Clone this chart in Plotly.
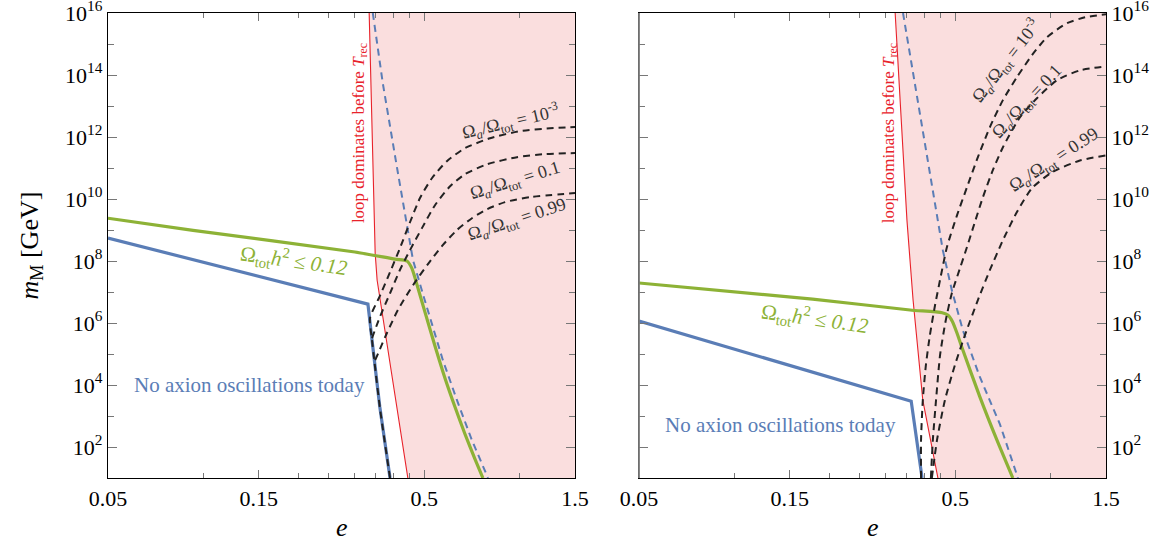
import math
import plotly.graph_objects as go

# ---------------- data (e values, log10 of m_M in GeV) ----------------
# Left panel
L_green_e = [0.05, 0.0929, 0.302, 0.404, 0.441, 0.457, 0.467, 0.503, 0.541, 0.582, 0.626, 0.673, 0.724, 0.767]
L_green_m = [9.38, 8.99, 8.29, 8.06, 8.0, 7.77, 7.48, 6.35, 5.26, 4.22, 3.29, 2.42, 1.61, 1.0]

L_blue_e = [0.05, 0.332, 0.342, 0.362, 0.390]
L_blue_m = [8.74, 6.61, 5.45, 3.29, 1.0]

L_bdash_e = [0.344, 0.370, 0.410, 0.444, 0.461, 0.499, 0.573, 0.635, 0.708, 0.796]
L_bdash_m = [16.0, 13.73, 11.03, 8.9, 8.03, 6.83, 4.80, 3.51, 2.22, 1.0]

L_red_e = [0.335, 0.350, 0.355, 0.444]
L_red_m = [16.0, 8.25, 7.38, 1.0]

L_a1_e = [0.390, 0.362, 0.342, 0.337, 0.362, 0.390, 0.419, 0.451, 0.485, 0.529, 0.590, 0.673, 0.808, 1.005, 1.25, 1.5]
L_a1_m = [1.0, 3.29, 5.45, 6.16, 6.87, 7.64, 8.41, 9.25, 10.03, 10.67, 11.22, 11.64, 11.96, 12.19, 12.28, 12.32]
L_a2_e = [0.342, 0.362, 0.390, 0.419, 0.451, 0.492, 0.541, 0.604, 0.673, 0.790, 0.983, 1.205, 1.5]
L_a2_m = [5.51, 6.19, 6.96, 7.71, 8.35, 9.06, 9.80, 10.41, 10.80, 11.12, 11.35, 11.45, 11.48]
L_a3_e = [0.350, 0.381, 0.413, 0.461, 0.514, 0.569, 0.635, 0.708, 0.790, 0.901, 1.081, 1.5]
L_a3_m = [4.80, 5.67, 6.42, 7.22, 7.90, 8.48, 9.0, 9.38, 9.67, 9.90, 10.06, 10.19]

# Right panel
R_green_e = [0.05, 0.177, 0.36, 0.455, 0.475, 0.490, 0.507, 0.525, 0.599, 0.678, 0.761]
R_green_m = [7.29, 6.77, 6.42, 6.33, 6.25, 6.05, 5.67, 5.22, 3.61, 2.22, 1.0]

R_blue_e = [0.05, 0.363, 0.393]
R_blue_m = [6.06, 3.48, 1.0]

R_bdash_e = [0.342, 0.457, 0.488, 0.529, 0.599, 0.693, 0.790]
R_bdash_m = [16.0, 8.35, 7.06, 5.76, 4.25, 2.73, 1.0]

R_red_e = [0.323, 0.352, 0.368, 0.395, 0.441]
R_red_m = [16.0, 9.31, 6.74, 3.51, 1.0]

R_a1_e = [0.390, 0.390, 0.395, 0.404, 0.416, 0.432, 0.451, 0.471, 0.507, 0.545, 0.590, 0.644, 0.708, 0.784, 0.875, 0.976, 1.129, 1.287, 1.5]
R_a1_m = [1.0, 2.22, 3.51, 4.64, 5.61, 6.58, 7.54, 8.45, 9.48, 10.38, 11.35, 12.32, 13.19, 13.93, 14.64, 15.22, 15.67, 15.86, 15.96]
R_a2_e = [0.419, 0.425, 0.435, 0.448, 0.467, 0.488, 0.518, 0.545, 0.577, 0.612, 0.658, 0.708, 0.802, 0.907, 1.049, 1.240, 1.5]
R_a2_m = [1.0, 2.22, 3.51, 4.97, 6.09, 6.96, 7.77, 8.45, 9.25, 10.06, 10.93, 11.67, 12.64, 13.25, 13.83, 14.15, 14.28]
R_a3_e = [0.422, 0.438, 0.464, 0.499, 0.537, 0.590, 0.644, 0.708, 0.784, 0.875, 1.019, 1.240, 1.5]
R_a3_m = [1.0, 2.22, 3.51, 4.64, 5.61, 6.74, 7.71, 8.67, 9.58, 10.35, 10.88, 11.24, 11.41]

# axis ticks
x_major = [0.05, 0.15, 0.5, 1.5]
x_major_text = ["0.05", "0.15", "0.5", "1.5"]
x_minor = [0.1, 0.2, 0.25, 0.3, 0.35, 0.4, 0.45, 1.0]
y_major_exp = [2, 4, 6, 8, 10, 12, 14, 16]
y_minor_exp = [3, 5, 7, 9, 11, 13, 15]

E_MIN, E_MAX = 0.05, 1.5
LOGM_MIN, LOGM_MAX = 1, 16

# ---------------- styling ----------------
GREEN = "#8db236"
BLUE = "#5a7db6"
RED = "#e8222a"
PINK = "#fadede"
DASHK = "#222222"
FONT = "Liberation Serif"

fig = go.Figure()


def add_line(e, lm, xa, ya, color, width, dash=None, shape="linear"):
    fig.add_trace(go.Scatter(
        x=e, y=[10 ** v for v in lm], xaxis=xa, yaxis=ya, mode="lines",
        line=dict(color=color, width=width, dash=dash, shape=shape, smoothing=0.6),
        hoverinfo="skip", showlegend=False))


def add_fill(e, lm, xa, ya):
    xs = list(e) + [E_MAX, E_MAX]
    ys = [10 ** v for v in lm] + [10 ** LOGM_MIN, 10 ** LOGM_MAX]
    fig.add_trace(go.Scatter(
        x=xs, y=ys, xaxis=xa, yaxis=ya, mode="lines", fill="toself",
        fillcolor=PINK, line=dict(width=0), hoverinfo="skip", showlegend=False))


panels = [
    ("x", "y", L_red_e, L_red_m, L_bdash_e, L_bdash_m, L_green_e, L_green_m, L_blue_e, L_blue_m,
     [(L_a1_e, L_a1_m), (L_a2_e, L_a2_m), (L_a3_e, L_a3_m)]),
    ("x2", "y2", R_red_e, R_red_m, R_bdash_e, R_bdash_m, R_green_e, R_green_m, R_blue_e, R_blue_m,
     [(R_a1_e, R_a1_m), (R_a2_e, R_a2_m), (R_a3_e, R_a3_m)]),
]

for xa, ya, re_, rm, bde, bdm, ge, gm, be, bm, curves in panels:
    add_fill(re_, rm, xa, ya)
    add_line(re_, rm, xa, ya, RED, 1.1)
    add_line(bde, bdm, xa, ya, BLUE, 2, dash="7px,5px")
    add_line(ge, gm, xa, ya, GREEN, 3.2, shape="spline")
    add_line(be, bm, xa, ya, BLUE, 3.2)
    for ce, cm in curves:
        add_line(ce, cm, xa, ya, DASHK, 2, dash="7px,5px", shape="spline")


def xaxis_cfg(domain, anchor):
    return dict(
        type="log", range=[math.log10(E_MIN), math.log10(E_MAX)], domain=domain, anchor=anchor,
        automargin=False,
        tickmode="array", tickvals=x_major, ticktext=x_major_text,
        ticks="inside", ticklen=8, tickwidth=1.2, tickcolor="#777",
        showline=True, linecolor="black", linewidth=1.3, mirror="ticks",
        showgrid=False, zeroline=False,
        minor=dict(tickmode="array", tickvals=x_minor, ticks="inside", ticklen=5,
                   tickwidth=1.1, tickcolor="#777", showgrid=False),
        tickfont=dict(family=FONT, size=22, color="black"),
        ticklabeloverflow="allow",
    )


def yaxis_cfg(anchor, side):
    return dict(
        type="log", range=[LOGM_MIN, LOGM_MAX], domain=[0, 1], anchor=anchor, side=side,
        automargin=False,
        tickmode="array", tickvals=[10 ** k for k in y_major_exp],
        ticktext=["10<sup>%d</sup>" % k for k in y_major_exp],
        ticks="inside", ticklen=9, tickwidth=1.2, tickcolor="#777",
        showline=True, linecolor="black", linewidth=1.3, mirror="ticks",
        showgrid=False, zeroline=False,
        minor=dict(tickmode="array", tickvals=[10 ** k for k in y_minor_exp], ticks="inside",
                   ticklen=6, tickwidth=1.1, tickcolor="#777", showgrid=False),
        tickfont=dict(family=FONT, size=22, color="black"),
        ticklabeloverflow="allow",
    )


# plot area: x 108..1106, y 13..478 of the 1169x541 page
PW = 1169 - 108 - 63
L_DOM = [0, 467 / PW]
R_DOM = [531 / PW, 1]

fig.update_layout(
    width=1169, height=541,
    margin=dict(l=108, r=63, t=13, b=63),
    paper_bgcolor="white", plot_bgcolor="white",
    font=dict(family=FONT, color="black"),
    xaxis=xaxis_cfg(L_DOM, "y"),
    yaxis=yaxis_cfg("x", "left"),
    xaxis2=xaxis_cfg(R_DOM, "y2"),
    yaxis2=yaxis_cfg("x2", "right"),
)

# grey left spine of the right panel (as in the reference)
fig.add_shape(type="line", xref="paper", yref="paper", x0=R_DOM[0], x1=R_DOM[0], y0=0, y1=1,
              line=dict(color="#7a7a7a", width=1.8), layer="above")

# axis titles
fig.add_annotation(xref="paper", yref="paper", x=-78 / PW, y=0.5, text="<i>m</i><sub>M</sub> [GeV]",
                   textangle=-90, showarrow=False, xanchor="center", yanchor="middle",
                   font=dict(family=FONT, size=26, color="black"))
for dom in (L_DOM, R_DOM):
    fig.add_annotation(xref="paper", yref="paper", x=(dom[0] + dom[1]) / 2, y=-49 / 465,
                       text="<i>e</i>", showarrow=False, xanchor="center", yanchor="middle",
                       font=dict(family=FONT, size=26, color="black"))


def ann(xa, ya, e, lm, text, color, size, angle=0):
    fig.add_annotation(
        xref=xa, yref=ya, x=math.log10(e), y=lm, text=text, showarrow=False,
        textangle=angle, font=dict(family=FONT, size=size, color=color),
        xanchor="center", yanchor="middle")


OMEGA = "Ω<sub><i>a</i></sub>/Ω<sub>tot</sub> = "
GREEN_TXT = "Ω<sub>tot</sub><i>h</i><sup>2</sup> ≤ <i>0.12</i>"
BLUE_TXT = "No axion oscillations today"
RED_TXT = "loop dominates before <i>T</i><sub>rec</sub>"

# left panel labels
ann("x", "y", 0.313, 12.12, RED_TXT, RED, 17, -90)
ann("x", "y", 0.194, 8.03, GREEN_TXT, GREEN, 21, 8)
ann("x", "y", 0.140, 4.0, BLUE_TXT, BLUE, 21)
ann("x", "y", 0.941, 12.51, OMEGA + "10<sup>-3</sup>", "#333", 18, -13)
ann("x", "y", 0.969, 10.55, OMEGA + "0.1", "#333", 18, -17)
ann("x", "y", 0.983, 9.32, OMEGA + "0.99", "#333", 18, -18)

# right panel labels
ann("x2", "y2", 0.311, 12.12, RED_TXT, RED, 17, -90)
ann("x2", "y2", 0.180, 6.16, GREEN_TXT, GREEN, 21, 8)
ann("x2", "y2", 0.140, 2.71, BLUE_TXT, BLUE, 21)
ann("x2", "y2", 0.724, 14.48, OMEGA + "10<sup>-3</sup>", "#333", 18, -52)
ann("x2", "y2", 0.845, 13.12, OMEGA + "0.1", "#333", 18, -47)
ann("x2", "y2", 1.030, 11.25, OMEGA + "0.99", "#333", 18, -33)

fig.write_html("out.html", config={"displayModeBar": False},
               post_script="document.body.style.margin='0';document.body.style.overflow='hidden';")
